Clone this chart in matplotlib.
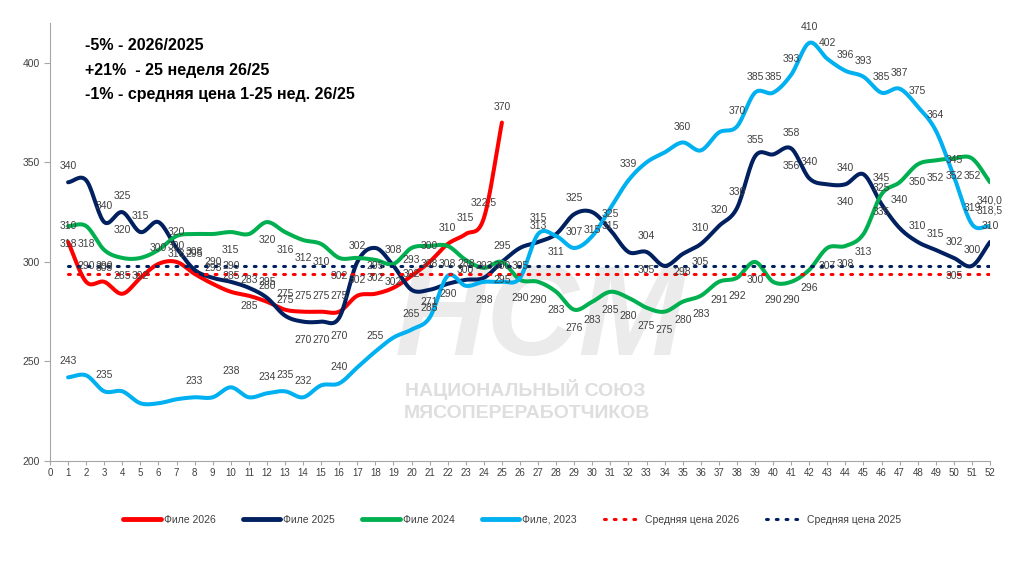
import numpy as np
import matplotlib
matplotlib.use('Agg')
import matplotlib.pyplot as plt

plt.rcParams['font.family'] = ['Liberation Sans', 'DejaVu Sans']

# weekly prices
weeks = list(range(1, 53))
file_2026 = [310, 290, 290, 284, 292, 299, 300, 294, 289, 285, 283, 280, 276, 275, 275, 275,
             283, 284, 287, 293, 300, 309, 314, 322, 370]
file_2025 = [340, 341, 320, 325, 315, 320, 307, 296, 292, 290, 287, 282, 273, 270, 270, 272,
             300, 307, 298, 286, 286, 289, 291, 292, 300, 307, 310, 314, 324, 325, 316, 305,
             305, 298, 304, 309, 318, 327, 353, 354, 357, 342, 339, 339, 344, 329, 317, 310,
             306, 302, 298, 310]
file_2024 = [318, 318, 306, 302, 302, 306, 313, 314, 314, 315, 314, 320, 315, 311, 309, 302,
             302, 301, 299, 307, 308, 308, 301, 297, 300, 291, 290, 285, 276, 280, 285, 282,
             277, 275, 280, 283, 290, 292, 300, 290, 290, 296, 307, 308, 314, 334, 340, 349,
             351, 352, 352, 340]
file_2023 = [242, 243, 235, 235, 229, 229, 231, 232, 232, 237, 232, 234, 235, 232, 238, 239,
             247, 255, 262, 266, 272, 293, 288, 290, 290, 292, 314, 313, 307, 313, 327, 341,
             350, 355, 360, 356, 365, 368, 385, 385, 394, 410, 402, 396, 393, 385, 387, 378,
             366, 343, 319, 318]
mean_2026 = 294
mean_2025 = 298

# data labels (text as shown on the chart), week -> text
lbl_2026_up = {1: '310', 2: '290', 3: '290', 6: '300', 7: '300', 9: '293', 10: '285', 11: '283',
               12: '280', 13: '275', 14: '275', 15: '275', 16: '275', 17: '302', 18: '302',
               20: '293', 21: '300', 22: '310', 23: '315', 24: '322,5', 25: '370'}
lbl_2025_up = {1: '340', 3: '340', 4: '325', 5: '315', 7: '320', 8: '295', 9: '290', 10: '290',
               12: '295', 13: '275', 17: '302', 19: '308', 20: '302', 23: '288', 27: '313',
               29: '325', 31: '325', 33: '304', 36: '310', 37: '320', 38: '330', 39: '355',
               41: '358', 42: '340', 44: '340', 46: '325', 48: '310', 49: '315', 50: '302',
               51: '300', 52: '310'}
lbl_2025_dn = {4: '320', 11: '285', 14: '270', 15: '270', 16: '270', 18: '295', 21: '285',
               25: '295', 26: '305', 28: '311', 30: '315', 33: '305', 35: '298', 36: '305',
               41: '356', 44: '340', 50: '305'}
lbl_2024_up = {25: '295', 46: '345'}
lbl_2024_dn = {1: '318', 2: '318', 3: '303', 4: '285', 5: '302', 7: '318', 8: '308', 10: '315',
               12: '320', 13: '316', 14: '312', 15: '310', 16: '302', 19: '302', 21: '308',
               22: '308', 26: '290', 27: '290', 28: '283', 29: '276', 30: '283', 31: '285',
               32: '280', 33: '275', 34: '275', 35: '280', 36: '283', 37: '291', 38: '292',
               39: '300', 40: '290', 41: '290', 42: '296', 43: '307', 44: '308', 45: '313',
               46: '335', 47: '340', 48: '350', 49: '352', 50: '352', 51: '352', 52: '340,0'}
lbl_2023_up = {1: '243', 3: '235', 8: '233', 10: '238', 12: '234', 13: '235', 14: '232',
               16: '240', 18: '255', 20: '265', 21: '271', 23: '300', 24: '293', 25: '300',
               27: '315', 29: '307', 32: '339', 35: '360', 38: '370', 39: '385', 40: '385',
               41: '393', 42: '410', 43: '402', 44: '396', 45: '393', 46: '385', 47: '387',
               48: '375', 49: '364', 50: '345', 51: '319', 52: '318,5'}
lbl_2023_dn = {22: '290', 24: '298', 31: '315'}

notes = ['-5% - 2026/2025', '+21%  - 25 неделя 26/25', '-1% - средняя цена 1-25 нед. 26/25']


def smooth(x, y, n=16):
    # Catmull-Rom curve through the points, like Excel's smoothed line
    x = np.asarray(x, float)
    y = np.asarray(y, float)
    px = np.concatenate([[2 * x[0] - x[1]], x, [2 * x[-1] - x[-2]]])
    py = np.concatenate([[2 * y[0] - y[1]], y, [2 * y[-1] - y[-2]]])
    t = np.linspace(0, 1, n, endpoint=False)[:, None]
    xs, ys = [], []
    for i in range(1, len(x)):
        for p, out in ((px, xs), (py, ys)):
            p0, p1, p2, p3 = p[i - 1], p[i], p[i + 1], p[i + 2]
            c = 0.5 * ((2 * p1) + (-p0 + p2) * t + (2 * p0 - 5 * p1 + 4 * p2 - p3) * t ** 2
                       + (-p0 + 3 * p1 - 3 * p2 + p3) * t ** 3)
            out.extend(c.ravel())
    xs.append(x[-1])
    ys.append(y[-1])
    return xs, ys


fig = plt.figure(figsize=(10.24, 5.74), dpi=100)
ax = fig.add_axes([50 / 1024, 1 - 461 / 574, 940 / 1024, 438 / 574])

# watermark, behind the lines
ax.text(540 / 1024, 1 - 322 / 574, 'НСМ', fontsize=92, fontweight='bold', style='italic',
        color='#ebebeb', ha='center', va='center', zorder=1, transform=fig.transFigure)
ax.text(525 / 1024, 1 - 390 / 574, 'НАЦИОНАЛЬНЫЙ СОЮЗ', fontsize=14, fontweight='bold',
        color='#dedede', ha='center', va='center', zorder=1, transform=fig.transFigure)
ax.text(527 / 1024, 1 - 414 / 574, 'МЯСОПЕРЕРАБОТЧИКОВ', fontsize=14, fontweight='bold',
        color='#dedede', ha='center', va='center', zorder=1, transform=fig.transFigure)

series = [
    (file_2026, '#ff0000', 'Филе 2026', lbl_2026_up, {}),
    (file_2025, '#002060', 'Филе 2025', lbl_2025_up, lbl_2025_dn),
    (file_2024, '#00b050', 'Филе 2024', lbl_2024_up, lbl_2024_dn),
    (file_2023, '#00b0f0', 'Филе, 2023', lbl_2023_up, lbl_2023_dn),
]
handles = []
for z, (vals, col, name, up, dn) in enumerate(series):
    wk = weeks[:len(vals)]
    sx, sy = smooth(wk, vals)
    h, = ax.plot(sx, sy, color=col, lw=2.9, solid_capstyle='round', label=name, zorder=3 + z)
    handles.append(h)

h1, = ax.plot(weeks, [mean_2026] * len(weeks), color='#ff0000', lw=2.2,
              linestyle=(0, (0.6, 2.6)), dash_capstyle='round', label='Средняя цена 2026', zorder=8)
h2, = ax.plot(weeks, [mean_2025] * len(weeks), color='#002060', lw=2.2,
              linestyle=(0, (0.6, 2.6)), dash_capstyle='round', label='Средняя цена 2025', zorder=8)
handles += [h1, h2]

for vals, col, name, up, dn in series:
    for w, txt in up.items():
        ax.text(w, vals[w - 1] + 8, txt, fontsize=7.5, color='#404040', ha='center',
                va='center', zorder=10)
    for w, txt in dn.items():
        ax.text(w, vals[w - 1] - 9, txt, fontsize=7.5, color='#404040', ha='center',
                va='center', zorder=10)

ax.set_xlim(0, 52)
ax.set_ylim(200, 420)
ax.set_xticks(range(0, 53))
ax.set_yticks([200, 250, 300, 350, 400])
ax.tick_params(axis='x', labelsize=7, length=3, color='#a6a6a6', labelcolor='#404040', pad=2)
ax.tick_params(axis='y', labelsize=7.5, length=4, color='#a6a6a6', labelcolor='#404040')
for s in ['top', 'right']:
    ax.spines[s].set_visible(False)
for s in ['left', 'bottom']:
    ax.spines[s].set_color('#a6a6a6')

for i, line in enumerate(notes):
    fig.text(85 / 1024, 1 - (46 + i * 24) / 574, line, fontsize=11.5, fontweight='bold',
             color='black', ha='left', va='center')

leg = fig.legend(handles=handles, loc='center', bbox_to_anchor=(0.5, 1 - 520 / 574), ncol=6,
                 frameon=False, fontsize=7.5, handlelength=3.6, columnspacing=2.6,
                 handletextpad=0.3)
for t in leg.get_texts():
    t.set_color('#404040')
for lh in leg.get_lines()[:4]:
    lh.set_linewidth(3.5)

fig.savefig('out.png', dpi=100)
